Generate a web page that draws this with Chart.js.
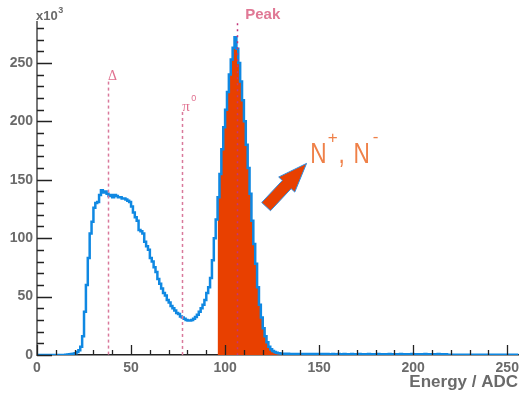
<!DOCTYPE html>
<html><head><meta charset="utf-8">
<script src="https://cdn.jsdelivr.net/npm/chart.js@4"></script>
<style>html,body{margin:0;padding:0;background:#fff;}#wrap{width:524px;height:393px;}</style>
</head><body><div id="wrap"><canvas id="c" width="524" height="393"></canvas></div>
<script>
// ---- data (counts per ADC bin, in units of 10^3) ----
const counts = [
 0,0,0,0,0,0,0,0,0,0,0,0,0,0,0,0,
 0.3,0.5,0.6,0.8,1.0,1.5,2.5,4,7,16,
 37,60,83,104,114,126,130,131,137,141,
 139,140,138,136,137,135,137,136,135,135,
 134,134,133,132,131,127,122,118,115,107,
 106,104,97,93,90,83,80,75,71,65,
 61,57,53,51,47,45,42,40,38,36,
 35,33,32,31,30,29.5,29.5,30,31,32.5,
 34.5,37,40,43,47,53,58,66,81,100,
 116,135,155,176,195,210,225,240,253,263,
 272,262,250,234,218,200,180,160,138,115,
 95,78,58,43,32,23,16,11,7,5,
 3.5,2.5,2,1.6,1.3,1.1,
 1.0,0.9,1.0,0.9,0.9,0.8,0.9,0.8,0.9,0.8,
 0.8,0.9,0.8,0.8,0.7,0.8,0.8,0.7,0.8,0.8,
 0.7,0.8,0.7,0.8,0.7,0.7,0.8,0.7,0.7,0.8,
 0.7,0.7,0.8,0.7,0.7,0.7,0.8,0.7,0.7,0.7,
 0.8,0.7,0.7,0.7,0.7,0.8,0.7,0.7,0.7,0.7,
 0.8,0.7,0.7,0.7,0.7,0.7,0.8,0.7,0.7,0.7,
 0.7,0.7,0.8,0.7,0.7,0.7,0.7,0.7,0.8,0.7,
 0.7,0.7,0.7,0.7,0.7,0.8,0.7,0.7,0.7,0.7,
 0.7,0.7,0.8,0.7,0.7,0.7,0.7,
 0.3,0.2,0.3,0.2,0.2,0.3,0.2,0.2,0.2,0.3,
 0.2,0.2,0.2,0.2,0.3,0.2,0.2,0.2,0.2,0.2,
 0.2,0.3,0.2,0.2,0.2,0.2,0.2,0.2,0.2,0.2,
 0.2,0.2,0.2,0.2,0.2,0.2,0.2
];
const xRange = [0, 256];
const yRange = [0, 285];
const xTickValues = [0, 50, 100, 150, 200, 250];
const yTickValues = [0, 50, 100, 150, 200, 250];
const minorStep = 10;
const peakBins = [96, 131];            // highlighted (filled) bins
const markerX = { delta: 37.8, pi0: 77.2, peak: 106.2 };
const markerTop = { delta: 234, pi0: 208, peak: 284 };
const arrowTail = [121.8, 127];
const arrowTip = [143.3, 164];
const nLabelAt = [145.2, 164.3];
const xTitle = 'Energy / ADC';
const yMultiplier = ['x10', '3'];

const histPoints = counts.map((v, i) => ({ x: i, y: v }));
histPoints.push({ x: counts.length, y: counts[counts.length - 1] });
const fillPoints = [];
for (let i = peakBins[0]; i <= peakBins[1]; i++) fillPoints.push({ x: i, y: counts[i] });

const FONT = '"Liberation Sans", Arial, sans-serif';
const GREY = '#6a6a6a';

const deco = {
  id: 'deco',
  afterDatasetsDraw(chart) {
    const ctx = chart.ctx, xs = chart.scales.x, ys = chart.scales.y;
    const bottom = chart.chartArea.bottom;
    ctx.save();
    ctx.lineWidth = 1.5;
    const lines = [
      [markerX.delta, markerTop.delta, '#d9799b', [3, 3]],
      [markerX.pi0, markerTop.pi0, '#d9799b', [3, 3]],
      [markerX.peak, markerTop.peak, '#c2357a', [2, 4]]
    ];
    for (const [x, t, col, dash] of lines) {
      const px = Math.round(xs.getPixelForValue(x)) + 0.5;
      ctx.strokeStyle = col; ctx.setLineDash(dash);
      ctx.beginPath(); ctx.moveTo(px, ys.getPixelForValue(t)); ctx.lineTo(px, bottom); ctx.stroke();
    }
    ctx.restore();
  },
  afterDraw(chart) {
    const ctx = chart.ctx, xs = chart.scales.x, ys = chart.scales.y;
    const { left, bottom } = chart.chartArea;
    ctx.save();
    // inward tick marks
    ctx.strokeStyle = '#222'; ctx.lineWidth = 1.3;
    ctx.beginPath();
    for (let v = yRange[0]; v <= yRange[1]; v += minorStep) {
      const py = Math.round(ys.getPixelForValue(v)) + 0.5;
      const major = yTickValues.includes(v);
      ctx.moveTo(left, py); ctx.lineTo(left + (major ? 15 : 7), py);
    }
    for (let v = xRange[0]; v <= xRange[1]; v += minorStep) {
      const px = Math.round(xs.getPixelForValue(v)) + 0.5;
      const major = xTickValues.includes(v);
      ctx.moveTo(px, bottom); ctx.lineTo(px, bottom - (major ? 10 : 5));
    }
    ctx.stroke();

    // x10^3
    ctx.fillStyle = GREY; ctx.textBaseline = 'alphabetic'; ctx.textAlign = 'left';
    ctx.font = 'bold 13px ' + FONT;
    ctx.fillText(yMultiplier[0], 36, 20);
    const w = ctx.measureText(yMultiplier[0]).width;
    ctx.font = 'bold 9px ' + FONT;
    ctx.fillText(yMultiplier[1], 36 + w + 0.5, 13);

    // axis title
    ctx.font = 'bold 17px ' + FONT; ctx.textAlign = 'right';
    ctx.fillText(xTitle, 518, 387);

    // marker labels
    ctx.textAlign = 'left';
    ctx.fillStyle = '#e0708f';
    ctx.font = '14px "Liberation Serif", serif';
    ctx.fillText('\u0394', xs.getPixelForValue(markerX.delta), ys.getPixelForValue(markerTop.delta) - 1.5);
    ctx.font = '15px "Liberation Serif", serif';
    const ppx = xs.getPixelForValue(markerX.pi0), ppy = ys.getPixelForValue(markerTop.pi0) - 1;
    ctx.fillText('\u03c0', ppx, ppy);
    ctx.font = '9px ' + FONT;
    ctx.fillText('0', ppx + 9, ppy - 10);
    ctx.fillStyle = '#e07895';
    ctx.font = 'bold 15px ' + FONT;
    ctx.fillText('Peak', xs.getPixelForValue(markerX.peak) + 8.5, 18.5);

    // arrow
    const tx = xs.getPixelForValue(arrowTail[0]), ty = ys.getPixelForValue(arrowTail[1]);
    const hx = xs.getPixelForValue(arrowTip[0]), hy = ys.getPixelForValue(arrowTip[1]);
    const L = Math.hypot(hx - tx, hy - ty), ux = (hx - tx) / L, uy = (hy - ty) / L;
    const nx = -uy, ny = ux;
    const sw = 6, hw = 11, hl = 29;
    const bx = hx - ux * hl, by = hy - uy * hl;
    ctx.beginPath();
    ctx.moveTo(tx + nx * sw, ty + ny * sw);
    ctx.lineTo(bx + nx * sw, by + ny * sw);
    ctx.lineTo(bx + nx * hw, by + ny * hw);
    ctx.lineTo(hx, hy);
    ctx.lineTo(bx - nx * hw, by - ny * hw);
    ctx.lineTo(bx - nx * sw, by - ny * sw);
    ctx.lineTo(tx - nx * sw, ty - ny * sw);
    ctx.closePath();
    ctx.fillStyle = '#e84000'; ctx.fill();
    ctx.strokeStyle = '#2c8ee2'; ctx.lineWidth = 1; ctx.stroke();

    // N+, N- label
    const ax = xs.getPixelForValue(nLabelAt[0]), ay = ys.getPixelForValue(nLabelAt[1]);
    ctx.fillStyle = '#ef8048';
    const big = '29px ' + FONT, small = '17px ' + FONT;
    const drawSq = (t, x, y, f) => { ctx.save(); ctx.translate(x, y); ctx.scale(0.78, 1); ctx.font = f; ctx.fillText(t, 0, 0); ctx.restore(); };
    drawSq('N', ax, ay, big);
    ctx.font = small; ctx.fillText('+', ax + 17.6, ay - 20);
    drawSq(',', ax + 28.3, ay, big);
    drawSq('N', ax + 43.3, ay, big);
    ctx.font = small; ctx.fillText('-', ax + 62.6, ay - 21);
    ctx.restore();
  }
};

new Chart(document.getElementById('c'), {
  type: 'line',
  data: {
    datasets: [
      { data: histPoints, stepped: 'after', borderColor: '#0f88e2', borderWidth: 2.5, fill: false, pointRadius: 0, order: 0 },
      { data: fillPoints, stepped: 'after', borderColor: 'rgba(0,0,0,0)', borderWidth: 0, backgroundColor: '#e84000', fill: 'origin', pointRadius: 0, order: 1 }
    ]
  },
  options: {
    responsive: false, animation: false, devicePixelRatio: 1,
    layout: { padding: { top: 22, right: 2.5, left: 0, bottom: 0 } },
    plugins: { legend: { display: false }, tooltip: { enabled: false } },
    scales: {
      x: {
        type: 'linear', min: xRange[0], max: xRange[1],
        afterBuildTicks: s => { s.ticks = xTickValues.map(v => ({ value: v })); },
        afterFit: s => { s.height = 38; },
        grid: { display: false, drawTicks: false },
        border: { display: true, color: '#222', width: 1.5 },
        ticks: { padding: 5, color: GREY, maxRotation: 0, autoSkip: false, font: { family: FONT, weight: 'bold', size: 14 } }
      },
      y: {
        type: 'linear', min: yRange[0], max: yRange[1],
        afterBuildTicks: s => { s.ticks = yTickValues.map(v => ({ value: v })); },
        afterFit: s => { s.width = 37; },
        grid: { display: false, drawTicks: false },
        border: { display: true, color: '#777', width: 2 },
        ticks: { padding: 4, color: GREY, font: { family: FONT, weight: 'bold', size: 14 } }
      }
    }
  },
  plugins: [deco]
});
</script></body></html>
